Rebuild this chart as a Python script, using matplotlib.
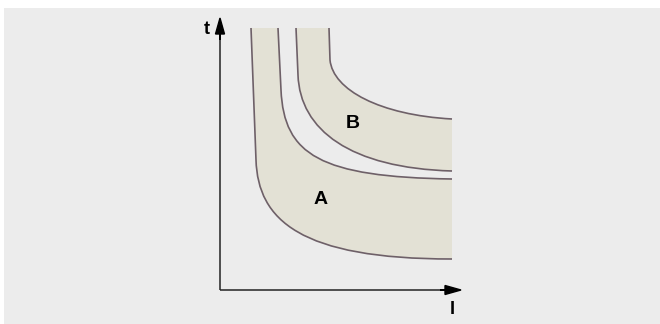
import matplotlib
matplotlib.use("Agg")
import matplotlib.pyplot as plt
from matplotlib.path import Path
from matplotlib.patches import PathPatch, Rectangle

plt.rcParams["font.family"] = ["Liberation Sans", "DejaVu Sans"]

# curves, in axis units (1 unit ~ 1 px from the origin)
# each curve: top point, start of bend, two bezier controls, right end
outer_a = [(31, 262), (36, 130), (38, 70), (80, 31), (232, 31)]
inner_a = [(58, 262), (61, 200), (64, 135), (100, 113), (232, 111)]
outer_b = [(76, 262), (78, 215), (80, 160), (130, 122), (232, 119)]
inner_b = [(109, 262), (110, 230), (113, 200), (160, 175), (232, 171)]

band_labels = ["A", "B"]
label_pos = [(101, 90), (133, 167)]

bg = "#ececec"
fill_col = "#e3e1d5"
line_col = "#6e6068"

codes = [Path.MOVETO, Path.LINETO, Path.CURVE4, Path.CURVE4, Path.CURVE4]


def band_path(lower, upper):
    # lower curve forwards, then upper curve backwards, then close
    verts = list(lower) + list(upper[::-1]) + [lower[0]]
    c = codes + [Path.LINETO, Path.CURVE4, Path.CURVE4, Path.CURVE4,
                 Path.LINETO, Path.CLOSEPOLY]
    return Path(verts, c)


fig = plt.figure(figsize=(6.6, 3.24), dpi=100)
ax = fig.add_axes([0, 0, 1, 1])
ax.set_xlim(-220, 440)
ax.set_ylim(-34, 290)
ax.axis("off")

# grey panel
ax.add_patch(Rectangle((-216, -40), 700, 322, facecolor=bg, edgecolor="none", zorder=0))

for lo, up in [(outer_a, inner_a), (outer_b, inner_b)]:
    ax.add_patch(PathPatch(band_path(lo, up), facecolor=fill_col, edgecolor="none", zorder=1))

for crv in [outer_a, inner_a, outer_b, inner_b]:
    ax.add_patch(PathPatch(Path(crv, codes), facecolor="none", edgecolor=line_col,
                           lw=1.2, zorder=2))

for lab, (x, y) in zip(band_labels, label_pos):
    ax.text(x, y, lab, fontsize=14, fontweight="bold", ha="center", va="center", zorder=3)

# axes with arrows
ax.plot([0, 0], [0, 258], color="#222222", lw=1.1, zorder=3, solid_capstyle="butt")
ax.plot([0, 228], [0, 0], color="#222222", lw=1.1, zorder=3, solid_capstyle="butt")
ax.arrow(0, 250, 0, 22, width=0, head_width=9, head_length=16, length_includes_head=True,
         color="black", zorder=4)
ax.arrow(220, 0, 21, 0, width=0, head_width=9, head_length=16, length_includes_head=True,
         color="black", zorder=4)
ax.text(-13, 261, "t", fontsize=13, fontweight="bold", ha="center", va="center")
ax.text(232, -19, "I", fontsize=13, fontweight="bold", ha="center", va="center")

fig.savefig("out.png", dpi=100, facecolor="white")
